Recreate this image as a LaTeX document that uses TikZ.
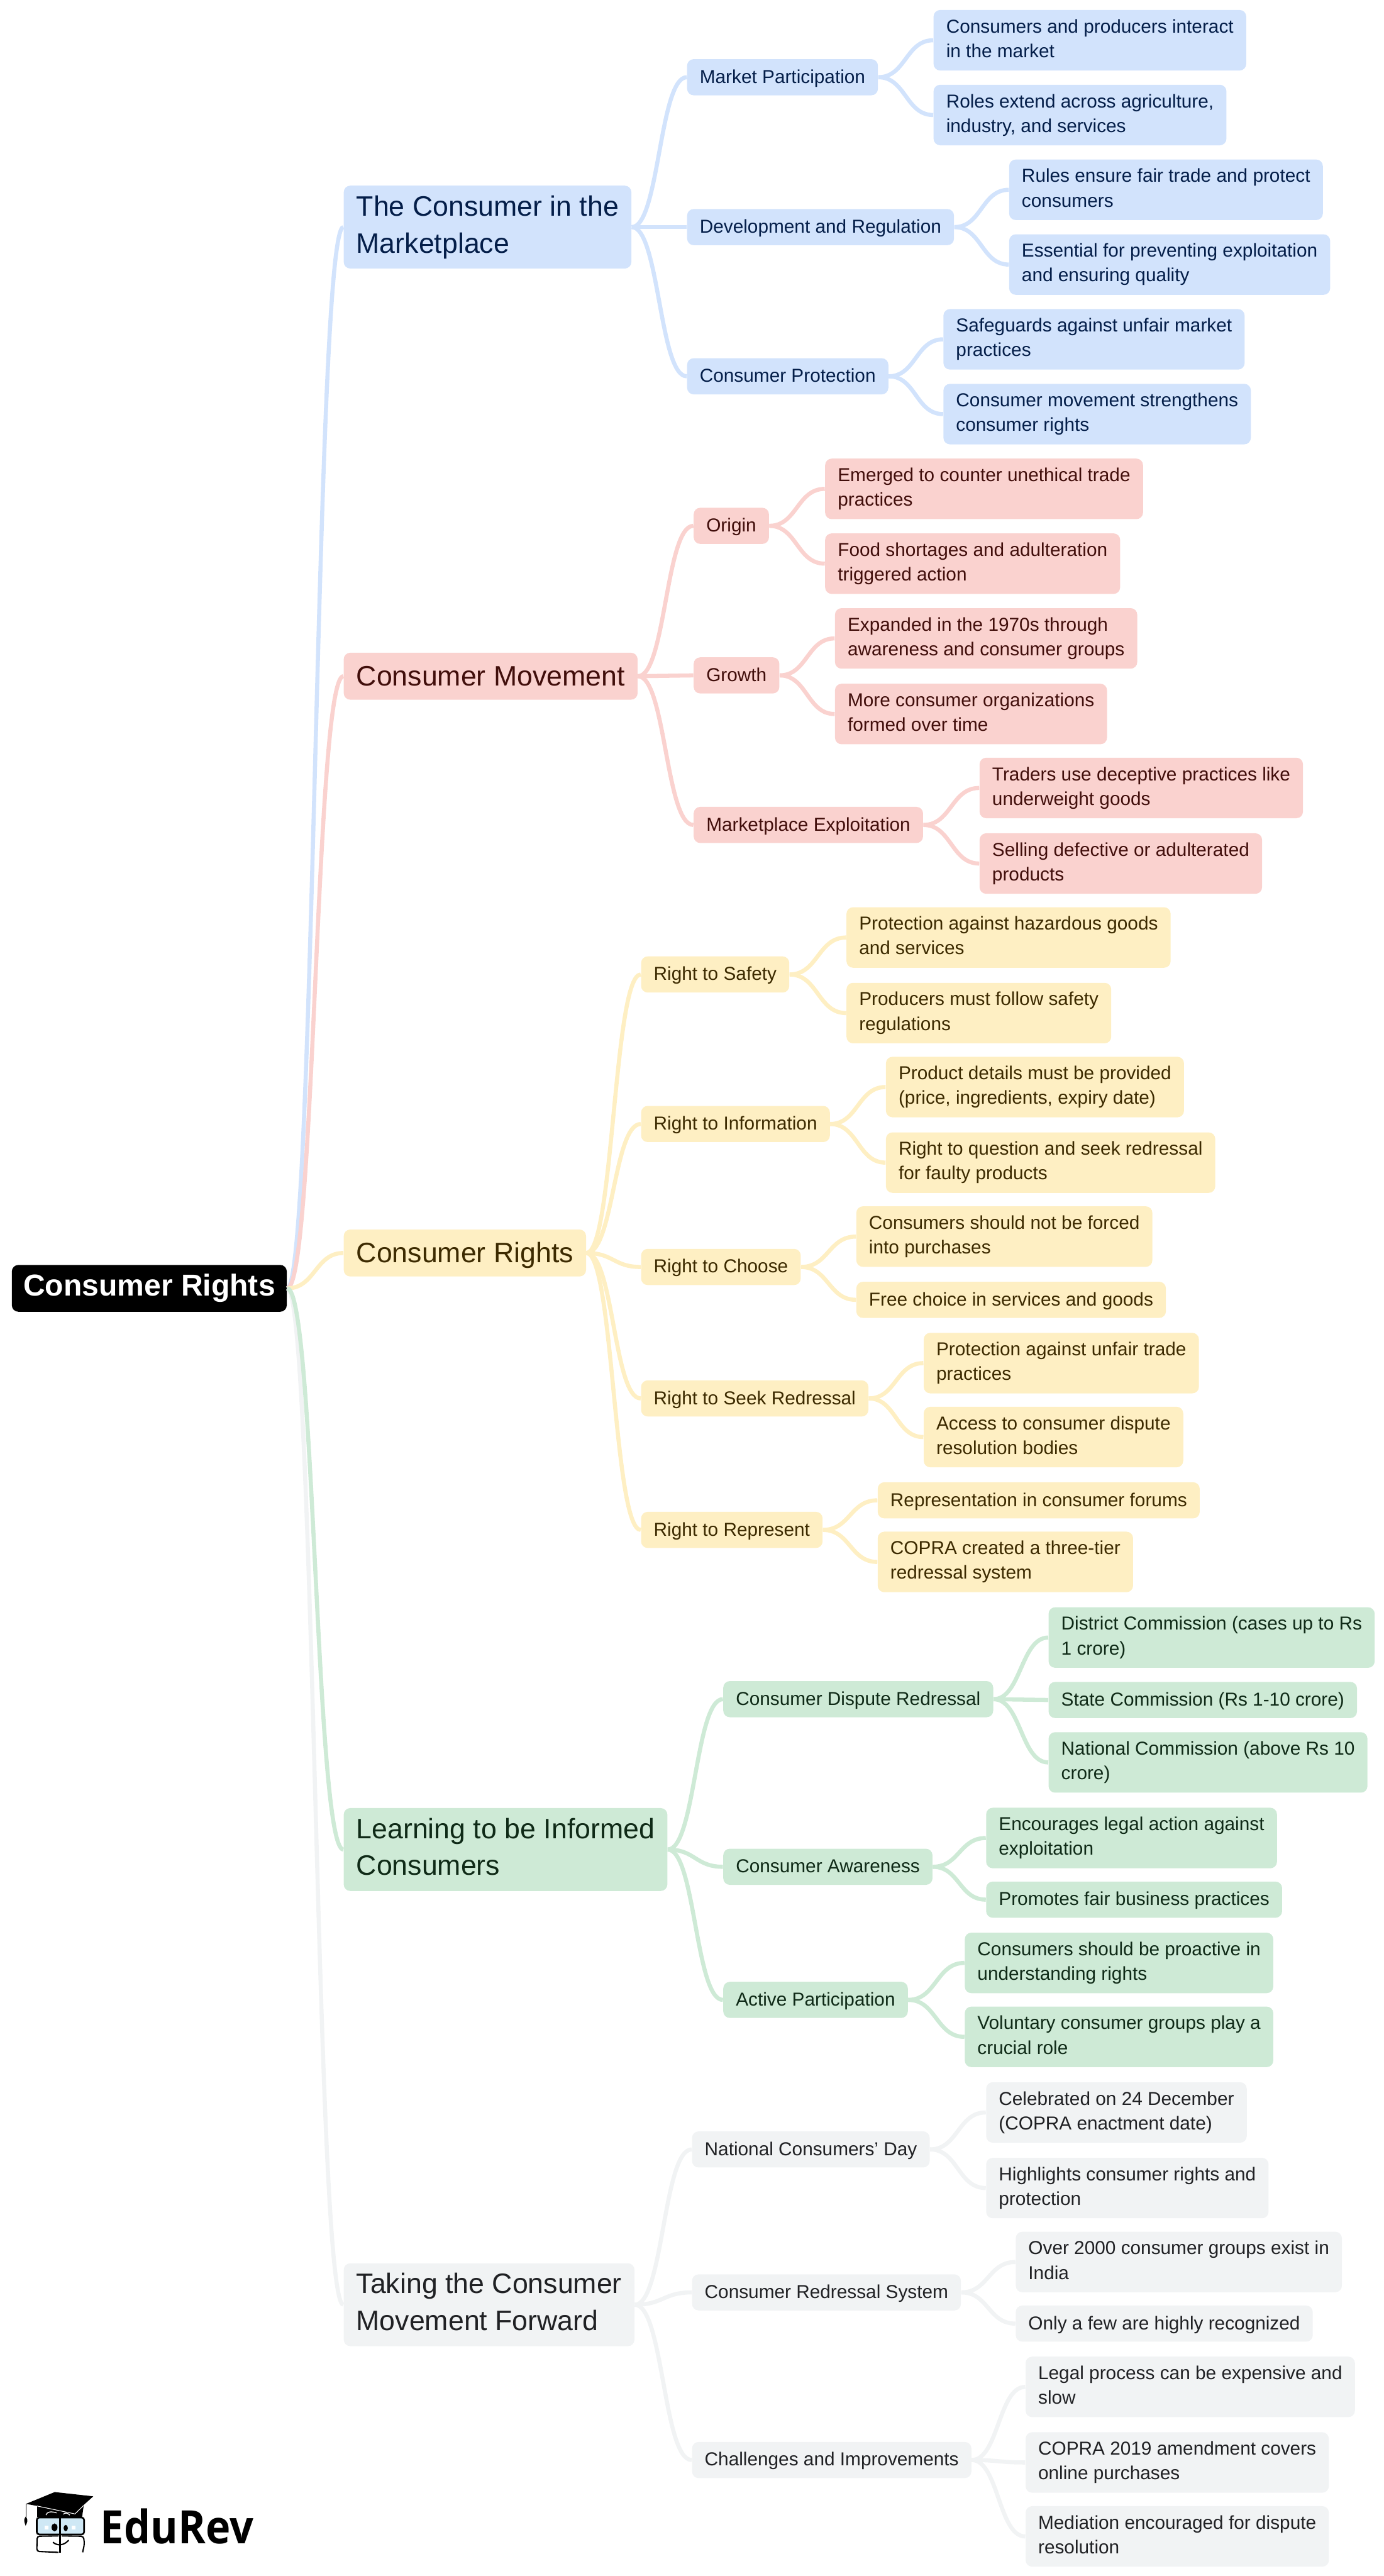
\documentclass[tikz,border=0pt]{standalone}
\usepackage{fontspec}
\setmainfont{Liberation Sans}
\newfontfamily\logofont[FakeStretch=0.91]{Open Sans}
\usetikzlibrary{calc}

\definecolor{blueback}{HTML}{D2E3FC}
\definecolor{bluetext}{HTML}{041E49}
\definecolor{redback}{HTML}{FAD2CF}
\definecolor{redtext}{HTML}{410E0B}
\definecolor{yellowback}{HTML}{FEEFC3}
\definecolor{yellowtext}{HTML}{3C2A00}
\definecolor{greenback}{HTML}{CEEAD6}
\definecolor{greentext}{HTML}{0F2A17}
\definecolor{grayback}{HTML}{F1F3F4}
\definecolor{graytext}{HTML}{202124}
\definecolor{glassblue}{HTML}{CFE8F5}

\tikzset{
	box/.style={anchor=west, rounded corners=4pt, align=left, inner xsep=7.7pt, inner ysep=5.6pt, execute at end node=\vphantom{p}},
	rootbox/.style={box, fill=black, text=white, inner xsep=7pt, minimum height=28.5pt, font=\fontsize{18.4}{22}\selectfont\bfseries},
	topic/.style={box, inner ysep=6pt, font=\fontsize{17.1}{22.5}\selectfont},
	oneline topic/.style={topic, text height=14pt, text depth=2.6pt},
	leaf/.style={box, minimum height=22pt, font=\fontsize{11.4}{15}\selectfont},
	oneline/.style={leaf, text height=9pt, text depth=1.8pt},
	sub/.style={oneline},
	bluenode/.style={fill=blueback, text=bluetext},
	rednode/.style={fill=redback, text=redtext},
	yellownode/.style={fill=yellowback, text=yellowtext},
	greennode/.style={fill=greenback, text=greentext},
	graynode/.style={fill=grayback, text=graytext},
	link/.style={line width=2.5pt}
}

\newcommand{\branch}[3]{
	\draw[link, color=#1] let \p1=(#2.east), \p2=(#3.west), \n1={(\x2-\x1)/2} in
		(\p1) .. controls +(\n1,0) and +(-\n1,0) .. (\p2);
}

\begin{document}
\begin{tikzpicture}[x=1pt, y=-1pt]
	\useasboundingbox (0,0) rectangle (842,1567.6);

	\node[rootbox] (root) at (7,784) {Consumer Rights};

	% the five topics
	\node[topic, bluenode] (market) at (209,138.2) {The Consumer in the\\Marketplace};
	\node[oneline topic, rednode] (movement) at (209,411.5) {Consumer Movement};
	\node[oneline topic, yellownode] (rights) at (209,762.5) {Consumer Rights};
	\node[topic, greennode] (learning) at (209,1125.5) {Learning to be Informed\\Consumers};
	\node[topic, graynode] (forward) at (209,1402.5) {Taking the Consumer\\Movement Forward};

	% blue
	\node[sub, bluenode] (participation) at (418,47) {Market Participation};
	\node[sub, bluenode] (development) at (418,138.2) {Development and Regulation};
	\node[sub, bluenode] (protection) at (418,229) {Consumer Protection};
	\node[leaf, bluenode] (interact) at (568,24.5) {Consumers and producers interact\\in the market};
	\node[leaf, bluenode] (roles) at (568,70) {Roles extend across agriculture,\\industry, and services};
	\node[leaf, bluenode] (fairtrade) at (614,115.5) {Rules ensure fair trade and protect\\consumers};
	\node[leaf, bluenode] (essential) at (614,161) {Essential for preventing exploitation\\and ensuring quality};
	\node[leaf, bluenode] (safeguards) at (574,206.5) {Safeguards against unfair market\\practices};
	\node[leaf, bluenode] (strengthens) at (574,252) {Consumer movement strengthens\\consumer rights};

	% red
	\node[sub, rednode] (origin) at (422,320) {Origin};
	\node[sub, rednode] (growth) at (422,411) {Growth};
	\node[sub, rednode] (exploitation) at (422,502) {Marketplace Exploitation};
	\node[leaf, rednode] (emerged) at (502,297.5) {Emerged to counter unethical trade\\practices};
	\node[leaf, rednode] (shortages) at (502,343) {Food shortages and adulteration\\triggered action};
	\node[leaf, rednode] (expanded) at (508,388.5) {Expanded in the 1970s through\\awareness and consumer groups};
	\node[leaf, rednode] (organizations) at (508,434.5) {More consumer organizations\\formed over time};
	\node[leaf, rednode] (traders) at (596,479.5) {Traders use deceptive practices like\\underweight goods};
	\node[leaf, rednode] (selling) at (596,525.5) {Selling defective or adulterated\\products};

	% yellow
	\node[sub, yellownode] (safety) at (390,593) {Right to Safety};
	\node[sub, yellownode] (information) at (390,684) {Right to Information};
	\node[sub, yellownode] (choose) at (390,771) {Right to Choose};
	\node[sub, yellownode] (redressal) at (390,851) {Right to Seek Redressal};
	\node[sub, yellownode] (represent) at (390,931) {Right to Represent};
	\node[leaf, yellownode] (hazardous) at (515,570.5) {Protection against hazardous goods\\and services};
	\node[leaf, yellownode] (regulations) at (515,616.5) {Producers must follow safety\\regulations};
	\node[leaf, yellownode] (details) at (539,661.5) {Product details must be provided\\(price, ingredients, expiry date)};
	\node[leaf, yellownode] (question) at (539,707.5) {Right to question and seek redressal\\for faulty products};
	\node[leaf, yellownode] (forced) at (521,752.5) {Consumers should not be forced\\into purchases};
	\node[oneline, yellownode] (freechoice) at (521,791) {Free choice in services and goods};
	\node[leaf, yellownode] (unfair) at (562,829.5) {Protection against unfair trade\\practices};
	\node[leaf, yellownode] (access) at (562,874.5) {Access to consumer dispute\\resolution bodies};
	\node[oneline, yellownode] (forums) at (534,913) {Representation in consumer forums};
	\node[leaf, yellownode] (threetier) at (534,950.5) {COPRA created a three-tier\\redressal system};

	% green
	\node[sub, greennode] (dispute) at (440,1034) {Consumer Dispute Redressal};
	\node[sub, greennode] (awareness) at (440,1136) {Consumer Awareness};
	\node[sub, greennode] (active) at (440,1217) {Active Participation};
	\node[leaf, greennode] (district) at (638,996.5) {District Commission (cases up to Rs\\1 crore)};
	\node[oneline, greennode] (state) at (638,1034.5) {State Commission (Rs 1-10 crore)};
	\node[leaf, greennode] (national) at (638,1072.5) {National Commission (above Rs 10\\crore)};
	\node[leaf, greennode] (legal) at (600,1118.5) {Encourages legal action against\\exploitation};
	\node[oneline, greennode] (fairbusiness) at (600,1156) {Promotes fair business practices};
	\node[leaf, greennode] (proactive) at (587,1194.5) {Consumers should be proactive in\\understanding rights};
	\node[leaf, greennode] (voluntary) at (587,1239.5) {Voluntary consumer groups play a\\crucial role};

	% gray
	\node[sub, graynode] (day) at (421,1308) {National Consumers' Day};
	\node[sub, graynode] (system) at (421,1395) {Consumer Redressal System};
	\node[sub, graynode] (challenges) at (421,1497) {Challenges and Improvements};
	\node[leaf, graynode] (celebrated) at (600,1285.5) {Celebrated on 24 December\\(COPRA enactment date)};
	\node[leaf, graynode] (highlights) at (600,1331.5) {Highlights consumer rights and\\protection};
	\node[leaf, graynode] (groups) at (618,1376.5) {Over 2000 consumer groups exist in\\India};
	\node[oneline, graynode] (recognized) at (618,1414) {Only a few are highly recognized};
	\node[leaf, graynode] (process) at (624,1452.5) {Legal process can be expensive and\\slow};
	\node[leaf, graynode] (online) at (624,1498.5) {COPRA 2019 amendment covers\\online purchases};
	\node[leaf, graynode] (mediation) at (624,1543.5) {Mediation encouraged for dispute\\resolution};

	% connectors
	\branch{blueback}{root}{market}
	\branch{redback}{root}{movement}
	\branch{yellowback}{root}{rights}
	\branch{grayback}{root}{forward}
	\branch{greenback}{root}{learning}

	\foreach \from/\to in {market/participation, market/development, market/protection,
		participation/interact, participation/roles, development/fairtrade, development/essential,
		protection/safeguards, protection/strengthens}
		{\branch{blueback}{\from}{\to}}
	\foreach \from/\to in {movement/origin, movement/growth, movement/exploitation,
		origin/emerged, origin/shortages, growth/expanded, growth/organizations,
		exploitation/traders, exploitation/selling}
		{\branch{redback}{\from}{\to}}
	\foreach \from/\to in {rights/safety, rights/information, rights/choose, rights/redressal, rights/represent,
		safety/hazardous, safety/regulations, information/details, information/question,
		choose/forced, choose/freechoice, redressal/unfair, redressal/access,
		represent/forums, represent/threetier}
		{\branch{yellowback}{\from}{\to}}
	\foreach \from/\to in {learning/dispute, learning/awareness, learning/active,
		dispute/district, dispute/state, dispute/national, awareness/legal, awareness/fairbusiness,
		active/proactive, active/voluntary}
		{\branch{greenback}{\from}{\to}}
	\foreach \from/\to in {forward/day, forward/system, forward/challenges,
		day/celebrated, day/highlights, system/groups, system/recognized,
		challenges/process, challenges/online, challenges/mediation}
		{\branch{grayback}{\from}{\to}}

	% logo
	\node[anchor=base west, inner sep=0pt, font=\fontsize{28}{28}\selectfont\logofont\bfseries] (edurev) at (61,1548) {EduRev};
	\fill (22.6,1525) -- (22.6,1531.6) -- (50,1531.6) -- (50.9,1525) -- cycle;
	\fill (33.3,1516.5) -- (56.8,1519.1) -- (45.6,1529.1) -- (15.8,1523.7) -- cycle;
	\draw[white, line width=.4pt] (22.6,1525) -- (45.6,1529.8) -- (50.6,1525);
	\draw[line width=.6pt] (15.8,1523.7) -- (15.8,1532);
	\fill (15.6,1531.5) .. controls (14,1533.5) and (15,1535) .. (15.6,1537) .. controls (16.5,1535) and (17.5,1533.5) .. (15.6,1531.5);
	\draw[white, line width=.5pt] (28,1530.5) .. controls (28.5,1528.5) and (31,1528) .. (34.5,1529.2);
	\draw[white, line width=.5pt] (38.5,1530) .. controls (39.5,1529) and (41,1529) .. (42.5,1530.5);
	\draw[fill=glassblue, line width=1pt, rounded corners=1.5pt] (22.4,1532) rectangle (51.2,1542.3);
	\fill[white] (27.3,1536.8) rectangle (29.6,1539.4);
	\fill[white] (43.7,1536.8) rectangle (46,1539.4);
	\fill (33.2,1538) ellipse (1.8 and 2.4);
	\fill (40,1538.4) ellipse (1.3 and 1.9);
	\draw[line width=1pt] (36.6,1531.4) -- (36.6,1553.5);
	\draw[line width=.8pt, rounded corners=1.5pt] (35.6,1543.2) -- (22.6,1543.4) -- (22.4,1552.6) -- (35.6,1553.2);
	\draw[line width=.8pt, rounded corners=1.5pt] (37.6,1543.2) -- (50.8,1543.4) -- (51.4,1548) -- (50.3,1553.2);
	\draw[line width=.8pt] (32.2,1547) .. controls (35,1549.5) and (39,1549) .. (41.8,1545.8);
\end{tikzpicture}
\end{document}
